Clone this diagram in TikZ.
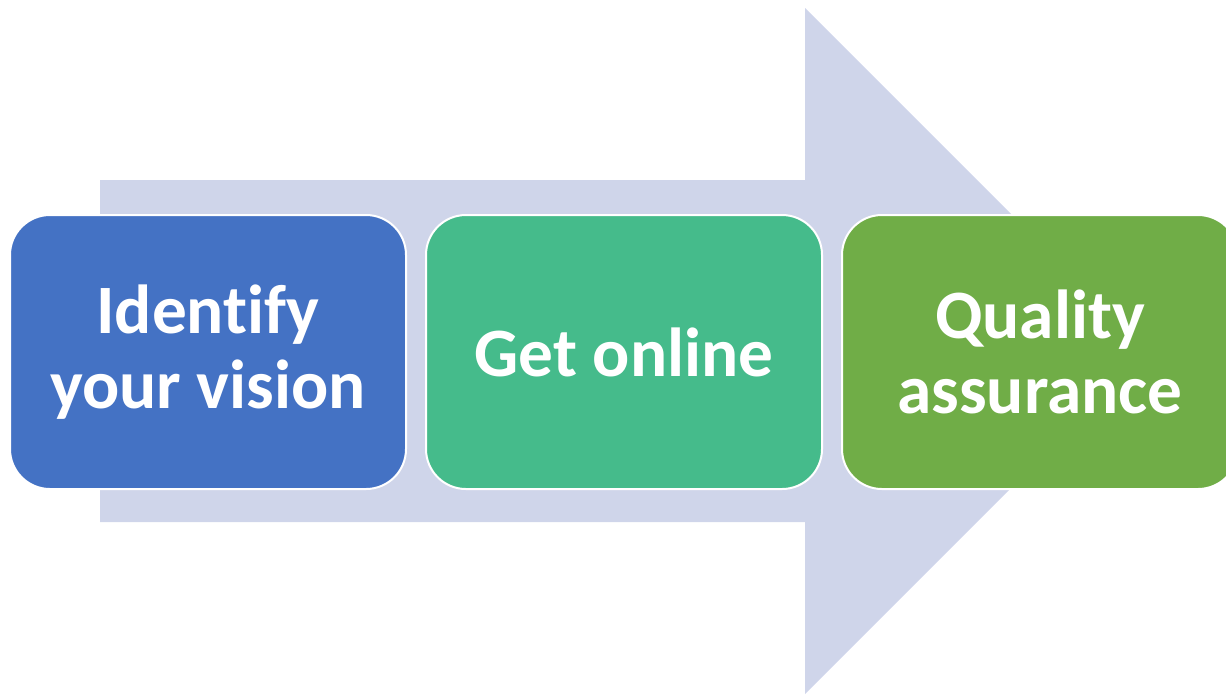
\documentclass[tikz,border=0pt]{standalone}
\usepackage{fontspec}
\setmainfont[Ligatures=NoCommon]{Carlito}
\usetikzlibrary{positioning}
\definecolor{arrowbg}{HTML}{CFD5EA}
\definecolor{stepblue}{HTML}{4472C4}
\definecolor{stepteal}{HTML}{45BB8B}
\definecolor{stepgreen}{HTML}{70AD47}
\tikzset{
  stepbox/.style={draw=white,line width=1.5pt,rounded corners=30pt,minimum width=297pt,
    minimum height=205.5pt,align=center,text=white,font=\bfseries\fontsize{52}{56}\selectfont},
  bigarrow/.style={fill=arrowbg,draw=none}
}

\begin{document}
\begin{tikzpicture}[x=0.75pt,y=-0.75pt,node distance=13.5pt]
 \useasboundingbox (0,0) rectangle (1226,694);
 \clip (0,0) rectangle (1226,694);
 % background arrow
 \fill[bigarrow] (100,180) -- (805,180) -- (805,8) -- (1148,351) -- (805,694) -- (805,522) -- (100,522) -- cycle;
 % steps
 \node[stepbox,fill=stepblue,anchor=north west] (vision) at (9,214) {Identify\\your vision};
 \node[stepbox,fill=stepteal,right=of vision] (online) {Get online};
 \node[stepbox,fill=stepgreen,right=of online] (quality) {Quality\\assurance};
\end{tikzpicture}
\end{document}
